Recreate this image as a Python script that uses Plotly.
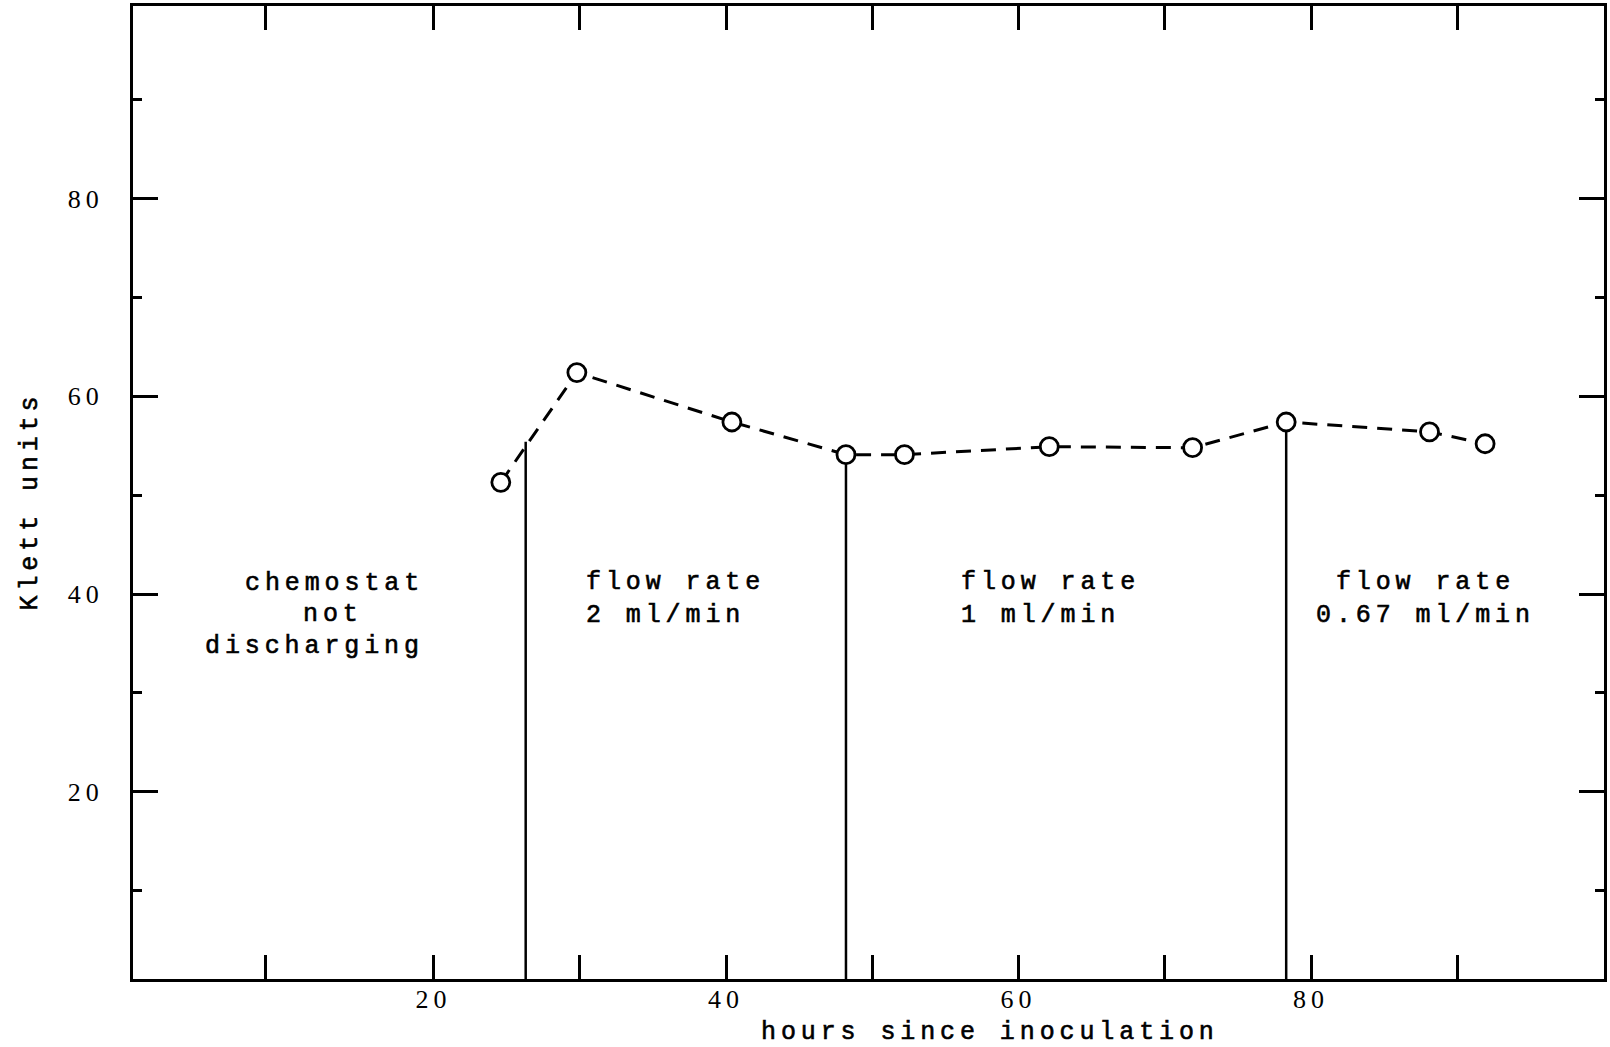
import plotly.graph_objects as go

# ---- data ----
hours = [24.6, 29.8, 40.4, 48.2, 52.2, 62.1, 71.9, 78.3, 88.1, 91.9]
klett = [51.3, 62.4, 57.4, 54.1, 54.1, 54.9, 54.8, 57.4, 56.4, 55.2]

change_hours = [26.3, 48.2, 78.3]      # times where the regime changes
change_tops = [55.4, 54.1, 57.4]       # height reached by each marker line

x_tick_vals = [8.5, 20, 30, 40, 50, 60, 70, 80, 90]
x_tick_text = ["", "20", "", "40", "", "60", "", "80", ""]
y_major_vals = [20, 40, 60, 80]
y_major_text = ["20", "40", "60", "80"]
y_minor_vals = [10, 30, 50, 70, 90]

x_title = "hours since inoculation"
y_title = "Klett units"

X_RANGE = [-0.55, 100.03]
Y_RANGE = [1.07, 99.47]

MONO = "Liberation Mono, Courier New, monospace"
SERIF = "Liberation Serif, Times New Roman, serif"
LS = 4.9


def spaced(text, ls=LS, stroke=0.6):
    style = f"letter-spacing:{ls}px"
    if stroke:
        style += f";stroke:black;stroke-width:{stroke}px"
    return "<br>".join(
        f'<span style="{style}">{line}</span>' for line in text.split("<br>")
    )


fig = go.Figure()

for h, top in zip(change_hours, change_tops):
    fig.add_trace(go.Scatter(
        x=[h, h], y=[0, top], mode="lines",
        line=dict(color="black", width=2.5),
        hoverinfo="skip", showlegend=False,
    ))

fig.add_trace(go.Scatter(
    x=hours, y=klett, mode="lines+markers",
    line=dict(color="black", width=3, dash="15px,10px"),
    marker=dict(symbol="circle", size=18, color="white",
                line=dict(color="black", width=2.8)),
    showlegend=False,
))

ann_font = dict(family=MONO, size=25, color="black")
annotations = [
    dict(x=19.5, y=41.1, text=spaced("chemostat"), xanchor="right", yanchor="middle"),
    dict(x=13.1, y=37.9, text=spaced("not"), xanchor="center", yanchor="middle"),
    dict(x=19.5, y=34.7, text=spaced("discharging"), xanchor="right", yanchor="middle"),
    dict(x=30.3, y=39.5, text=spaced("flow rate<br>2 ml/min"), xanchor="left",
         yanchor="middle", align="left"),
    dict(x=55.95, y=39.5, text=spaced("flow rate<br>1 ml/min"), xanchor="left",
         yanchor="middle", align="left"),
    dict(x=87.8, y=39.5, text=spaced("flow rate<br>0.67 ml/min"), xanchor="center",
         yanchor="middle", align="center"),
]
for a in annotations:
    a.update(xref="x", yref="y", showarrow=False, font=ann_font)

annotations.append(dict(
    x=(992 - 133) / 1474, y=-0.0545, xref="paper", yref="paper",
    text=spaced(x_title), showarrow=False, xanchor="center", yanchor="middle",
    font=ann_font,
))
annotations.append(dict(
    x=-0.0699, y=0.491, xref="paper", yref="paper",
    text=spaced(y_title), showarrow=False, xanchor="center", yanchor="middle",
    textangle=-90, font=ann_font,
))

fig.update_layout(
    width=1610, height=1047,
    margin=dict(l=133, r=3, t=6, b=68),
    paper_bgcolor="white", plot_bgcolor="white",
    annotations=annotations,
    xaxis=dict(
        range=X_RANGE, showgrid=False, zeroline=False,
        showline=True, linecolor="black", linewidth=3, mirror="allticks",
        tickmode="array", tickvals=x_tick_vals,
        ticktext=[spaced(t, 5, 0) if t else "" for t in x_tick_text],
        ticks="inside", ticklen=24, tickwidth=3, tickcolor="black",
        ticklabelstandoff=-5,
        tickfont=dict(family=SERIF, size=26, color="black"),
    ),
    yaxis=dict(
        range=Y_RANGE, showgrid=False, zeroline=False,
        showline=True, linecolor="black", linewidth=3, mirror="allticks",
        tickmode="array", tickvals=y_major_vals,
        ticktext=[spaced(t, 5, 0) for t in y_major_text],
        ticks="inside", ticklen=25, tickwidth=3, tickcolor="black",
        ticklabelstandoff=21,
        tickfont=dict(family=SERIF, size=26, color="black"),
        minor=dict(tickmode="array", tickvals=y_minor_vals, ticks="inside",
                   ticklen=9, tickwidth=3, tickcolor="black", showgrid=False),
    ),
)

fig.write_html("out.html", config={"displayModeBar": False},
               post_script="document.body.style.margin='0';")
